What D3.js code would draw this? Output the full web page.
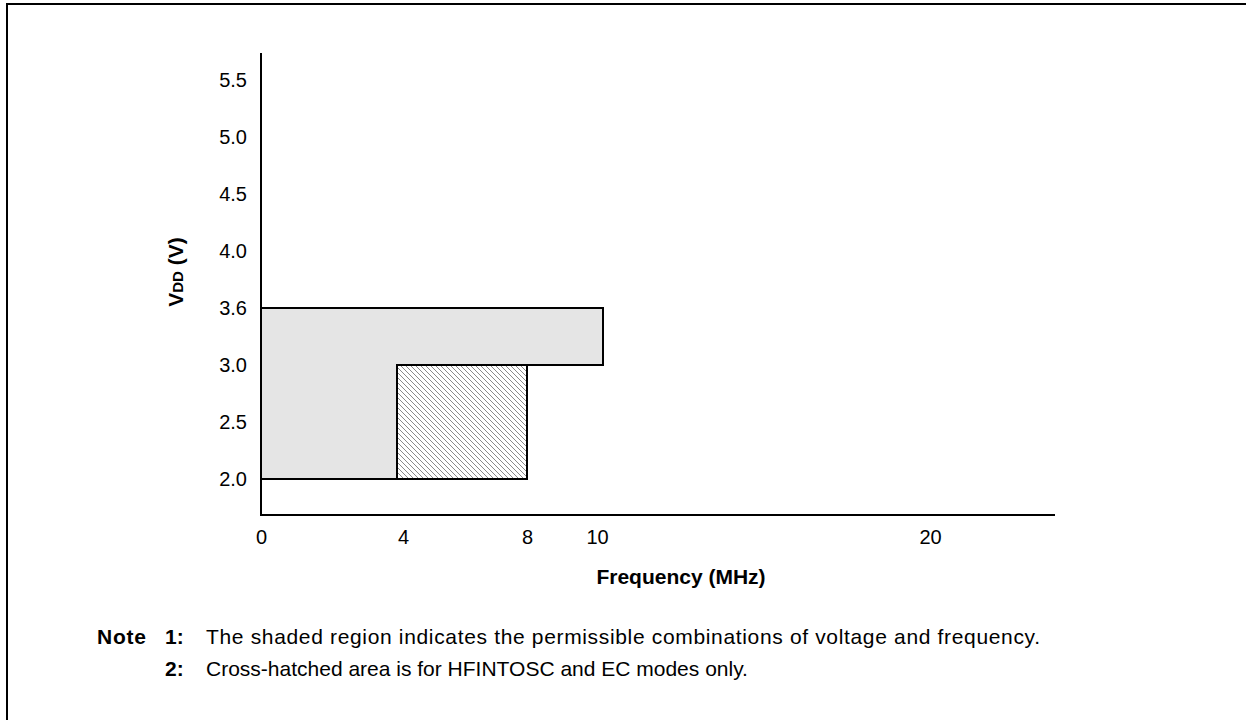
<!DOCTYPE html>
<html>
<head>
<meta charset="utf-8">
<script src="https://cdn.jsdelivr.net/npm/d3@7"></script>
<style>
  body { margin: 0; background: #fff; }
  text { font-family: Arial, "Liberation Sans", sans-serif; fill: #000; }
</style>
</head>
<body>
<div id="mychart"></div>
<script>
// values
const freqTicks = [0, 4, 8, 10, 20];
const vddTicks = [2.0, 2.5, 3.0, 3.6, 4.0, 4.5, 5.0, 5.5];
const shadedRegion = [[0, 2.0], [0, 3.6], [10, 3.6], [10, 3.0], [4, 3.0], [4, 2.0]];
const hatchedRegion = [[4, 2.0], [4, 3.0], [8, 3.0], [8, 2.0]];
const noteNumbers = ["1:", "2:"];
const noteTexts = [
    "The shaded region indicates the permissible combinations of voltage and frequency.",
    "Cross-hatched area is for HFINTOSC and EC modes only."
];

const width = 1246;
const height = 720;
const fontFamily = "Arial, 'Liberation Sans', sans-serif";

const svg = d3.select("#mychart")
    .append("svg")
    .attr("width", width)
    .attr("height", height);

// frame (top and left edges only)
svg.append("path")
    .attr("d", "M7,720 L7,4 L1246,4")
    .attr("fill", "none")
    .attr("stroke", "#000")
    .attr("stroke-width", 2);

// hatch pattern
const defs = svg.append("defs");
defs.append("pattern")
    .attr("id", "hatch")
    .attr("patternUnits", "userSpaceOnUse")
    .attr("width", 5)
    .attr("height", 5)
    .append("path")
    .attr("d", "M0,0 L5,5 M-1,4 L1,6 M4,-1 L6,1")
    .attr("stroke", "#8a8a8a")
    .attr("stroke-width", 1);

// the reference axes are not evenly scaled, so both scales are piecewise
const x = d3.scaleLinear()
    .domain([0, 4, 8, 10, 20, 24])
    .range([261, 397, 527, 603, 930, 1055]);

const yStep = 57;
const y = d3.scaleLinear()
    .domain(vddTicks)
    .range(vddTicks.map((d, i) => 479 - i * yStep));

const line = d3.line().x(d => x(d[0])).y(d => y(d[1]));

svg.append("path")
    .attr("d", line(shadedRegion) + "Z")
    .attr("fill", "#e5e5e5")
    .attr("stroke", "#000")
    .attr("stroke-width", 2);

svg.append("path")
    .attr("d", line(hatchedRegion) + "Z")
    .attr("fill", "url(#hatch)")
    .attr("stroke", "#000")
    .attr("stroke-width", 2);

// axes
const axisBottom = 515;
const axisTop = 53;

svg.append("line")
    .attr("x1", x(0)).attr("x2", x(0))
    .attr("y1", axisTop).attr("y2", axisBottom + 1)
    .attr("stroke", "#000").attr("stroke-width", 2);

svg.append("line")
    .attr("x1", x(0)).attr("x2", x(24))
    .attr("y1", axisBottom).attr("y2", axisBottom)
    .attr("stroke", "#000").attr("stroke-width", 2);

// labels in the original sit a little off the box edges
const labelNudge = { 4: 6, 10: -6 };

const xAxis = svg.append("g")
    .attr("transform", `translate(0,${axisBottom})`)
    .call(d3.axisBottom(x).tickValues(freqTicks).tickSize(0).tickPadding(15).tickFormat(d3.format("d")));
xAxis.select(".domain").remove();
xAxis.selectAll("text")
    .attr("dx", d => labelNudge[d] || 0)
    .style("font-family", fontFamily)
    .style("font-size", "20px");

const yAxis = svg.append("g")
    .attr("transform", `translate(${x(0)},0)`)
    .call(d3.axisLeft(y).tickValues(vddTicks).tickSize(0).tickPadding(14).tickFormat(d3.format(".1f")));
yAxis.select(".domain").remove();
yAxis.selectAll("text")
    .style("font-family", fontFamily)
    .style("font-size", "20px");

// axis titles
svg.append("text")
    .attr("x", 681)
    .attr("y", 584)
    .attr("text-anchor", "middle")
    .style("font-size", "21px")
    .style("font-weight", "bold")
    .text("Frequency (MHz)");

const yTitle = svg.append("text")
    .attr("transform", "translate(183,272) rotate(-90)")
    .attr("text-anchor", "middle")
    .style("font-size", "21px")
    .style("font-weight", "bold");
yTitle.append("tspan").text("V");
yTitle.append("tspan").style("font-size", "15px").text("DD");
yTitle.append("tspan").text(" (V)");

// notes
svg.append("text")
    .attr("x", 97)
    .attr("y", 644)
    .style("font-size", "21px")
    .style("font-weight", "bold")
    .attr("textLength", 49)
    .text("Note");

noteNumbers.forEach((n, i) => {
    svg.append("text")
        .attr("x", 165)
        .attr("y", 644 + i * 32)
        .style("font-size", "21px")
        .style("font-weight", "bold")
        .text(n);
    const t = svg.append("text")
        .attr("x", 206)
        .attr("y", 644 + i * 32)
        .style("font-size", "21px")
        .text(noteTexts[i]);
    if (i === 0) t.attr("textLength", 834).attr("lengthAdjust", "spacing");
});
</script>
</body>
</html>
